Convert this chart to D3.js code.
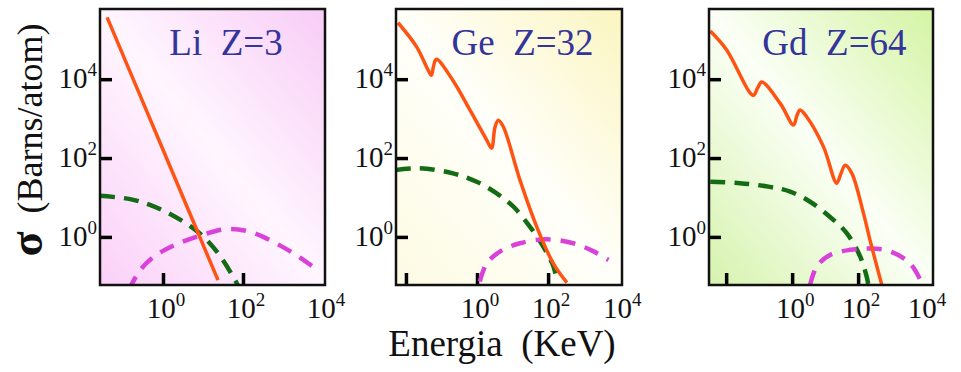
<!DOCTYPE html>
<html>
<head>
<meta charset="utf-8">
<script src="https://cdn.jsdelivr.net/npm/d3@7"></script>
<style>
  body { margin: 0; background: #fff; }
  svg { display: block; }
</style>
</head>
<body>
<div id="chart"></div>
<script>
// panel titles
const elements = ["Li", "Ge", "Gd"];
const atomicNumbers = [3, 32, 64];

// axis extents (keV, barns/atom)
const xExtents = [[0.0266, 11220], [0.00525, 12020], [0.00302, 18620]];
const yExtent = [0.0603, 602560];
const xTickValues = [0.01, 1, 100];
const xLabelValues = [1, 100, 10000];
const yTickValues = [1, 100, 10000];

// [energy keV, sigma barns] -- photoelectric (solid)
const photoLi = [[0.04, 370000], [1, 162], [23.7, 0.08]];
const photoGe = [[0.006, 270000], [0.02, 66000], [0.042, 17000], [0.052, 12600], [0.06, 22000], [0.072, 32000],
  [0.21, 9300], [0.63, 1660], [1.86, 290], [2.57, 178], [3.2, 600], [3.98, 910], [5.5, 620],
  [16.2, 27.5], [48, 1.8], [141, 0.21], [339, 0.069]];
const photoGd = [[0.0033, 166000], [0.0105, 54000], [0.05, 4800], [0.068, 3900], [0.09, 6000], [0.12, 8500],
  [0.44, 2400], [1.1, 690], [1.4, 1200], [1.74, 1660], [2.75, 1120], [8.9, 195], [22.4, 23],
  [30, 40], [40.7, 66], [64.6, 41], [145, 4.0], [229, 0.83], [525, 0.06]];

// coherent scattering (green dashed)
const cohLi = [[0.0266, 11], [0.15, 9.1], [0.47, 6.5], [1.5, 3.8], [4.7, 1.9], [11.2, 0.93],
  [26.6, 0.33], [63, 0.081], [84, 0.046]];
const cohGe = [[0.0052, 50], [0.0245, 55], [0.21, 41], [0.98, 25], [3.5, 12.9], [10.5, 5.9],
  [31, 1.8], [74, 0.56], [141, 0.18], [178, 0.074]];
const cohGd = [[0.0033, 25], [0.026, 23], [0.21, 18.6], [0.87, 14.1], [3.5, 7.8], [14.1, 3.2],
  [45.7, 1.23], [115, 0.32], [182, 0.098], [204, 0.06]];

// incoherent scattering (magenta dashed)
const incLi = [[0.14, 0.045], [0.27, 0.145], [0.63, 0.33], [2.0, 0.63], [8.4, 1.07], [37.6, 1.58],
  [150, 1.35], [631, 0.71], [2660, 0.30], [8400, 0.13]];
const incGe = [[1.2, 0.074], [1.86, 0.21], [4.5, 0.43], [16.2, 0.69], [91, 0.87], [513, 0.69],
  [1900, 0.43], [5000, 0.26]];
const incGd = [[3.5, 0.06], [5.6, 0.18], [14.1, 0.35], [57.5, 0.47], [229, 0.51], [933, 0.43],
  [3800, 0.21], [8500, 0.068]];

const photo = [photoLi, photoGe, photoGd];
const coh = [cohLi, cohGe, cohGd];
const inc = [incLi, incGe, incGd];

// layout / styling
const W = 961, H = 372;
const panelLeft = [100, 396, 709];
const panelWidth = [225, 226, 224];
const plotTop = 9, plotBottom = 285;
const bgStops = [
  ["#fbd0f8", "#fff6ff", "#f8ccf6"],
  ["#fdfbe2", "#fffffa", "#fbf5c0"],
  ["#d6f3ae", "#fbfff6", "#d4f4a4"]
];
const serif = "'Liberation Serif'";

const svg = d3.select("#chart").append("svg")
  .attr("width", W).attr("height", H);
const defs = svg.append("defs");

const y = d3.scaleLog().domain(yExtent).range([plotBottom, plotTop]);

for (let i = 0; i < 3; i++) {
  const x0 = panelLeft[i], w = panelWidth[i];
  const x = d3.scaleLog().domain(xExtents[i]).range([x0, x0 + w]);

  const grad = defs.append("linearGradient")
    .attr("id", "bg" + i)
    .attr("x1", 0).attr("y1", 1).attr("x2", 1).attr("y2", 0);
  grad.append("stop").attr("offset", 0).attr("stop-color", bgStops[i][0]);
  grad.append("stop").attr("offset", 0.5).attr("stop-color", bgStops[i][1]);
  grad.append("stop").attr("offset", 1).attr("stop-color", bgStops[i][2]);

  defs.append("clipPath").attr("id", "clip" + i)
    .append("rect").attr("x", x0).attr("y", plotTop).attr("width", w).attr("height", plotBottom - plotTop);

  const g = svg.append("g");
  g.append("rect")
    .attr("x", x0).attr("y", plotTop).attr("width", w).attr("height", plotBottom - plotTop)
    .attr("fill", "url(#bg" + i + ")");

  // inward ticks
  const xAxis = g.append("g")
    .attr("transform", "translate(0," + plotBottom + ")")
    .call(d3.axisBottom(x).tickValues(xTickValues.filter(v => x(v) > x0 + 4)).tickSize(-12).tickFormat(""));
  const yAxis = g.append("g")
    .attr("transform", "translate(" + x0 + ",0)")
    .call(d3.axisLeft(y).tickValues(yTickValues).tickSize(-12).tickFormat(""));
  [xAxis, yAxis].forEach(a => {
    a.select(".domain").remove();
    a.selectAll("line").attr("stroke", "#000").attr("stroke-width", 3.5);
  });

  const line = d3.line()
    .x(d => x(d[0]))
    .y(d => y(d[1]))
    .curve(d3.curveCatmullRom.alpha(0.5));

  const curves = g.append("g").attr("clip-path", "url(#clip" + i + ")");
  curves.append("path").datum(coh[i])
    .attr("d", line).attr("fill", "none")
    .attr("stroke", "#136b13").attr("stroke-width", 4.5)
    .attr("stroke-dasharray", "15,9");
  curves.append("path").datum(inc[i])
    .attr("d", line).attr("fill", "none")
    .attr("stroke", "#d942d9").attr("stroke-width", 4.5)
    .attr("stroke-dasharray", "15,10");
  curves.append("path").datum(photo[i])
    .attr("d", line).attr("fill", "none")
    .attr("stroke", "#ff5314").attr("stroke-width", 3.5);

  // frame
  g.append("rect")
    .attr("x", x0).attr("y", plotTop).attr("width", w).attr("height", plotBottom - plotTop)
    .attr("fill", "none").attr("stroke", "#111").attr("stroke-width", 2.5);

  // title
  g.append("text")
    .attr("x", x0 + w * 0.56).attr("y", 55)
    .attr("text-anchor", "middle")
    .style("font-family", serif).attr("font-size", 37)
    .attr("fill", "#34349a")
    .attr("xml:space", "preserve")
    .text(elements[i] + "  Z=" + atomicNumbers[i]);

  // y tick labels
  yTickValues.forEach(v => {
    const t = g.append("text")
      .attr("x", x0 - 3).attr("y", y(v) + 9)
      .attr("text-anchor", "end")
      .style("font-family", serif).attr("font-size", 29).attr("fill", "#111");
    t.append("tspan").text("10");
    t.append("tspan").attr("dy", -12).attr("font-size", 19).text(Math.round(Math.log10(v)));
  });

  // x tick labels
  xLabelValues.forEach(v => {
    const t = g.append("text")
      .attr("x", x(v) + 3).attr("y", 318)
      .attr("text-anchor", "middle")
      .style("font-family", serif).attr("font-size", 29).attr("fill", "#111");
    t.append("tspan").text("10");
    t.append("tspan").attr("dy", -12).attr("font-size", 19).text(Math.round(Math.log10(v)));
  });
}

// axis titles
const yTitle = svg.append("text")
  .attr("transform", "translate(42,140) rotate(-90)")
  .attr("text-anchor", "middle")
  .style("font-family", serif).attr("font-size", 36).attr("fill", "#111")
  .attr("xml:space", "preserve");
yTitle.append("tspan").attr("font-weight", "bold").attr("font-size", 46).text("σ");
yTitle.append("tspan").text("  (Barns/atom)");

svg.append("text")
  .attr("x", 502).attr("y", 356)
  .attr("text-anchor", "middle")
  .style("font-family", serif).attr("font-size", 37).attr("fill", "#111")
  .attr("xml:space", "preserve")
  .text("Energia  (KeV)");
</script>
</body>
</html>
